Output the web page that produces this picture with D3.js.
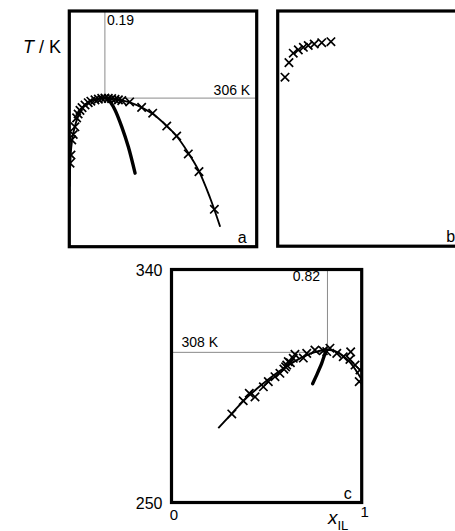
<!DOCTYPE html>
<html>
<head>
<meta charset="utf-8">
<script src="https://cdn.jsdelivr.net/npm/d3@7"></script>
<style>
  html, body { margin: 0; padding: 0; background: #fff; }
  svg { display: block; font-family: "Liberation Sans", Arial, sans-serif; }
</style>
</head>
<body>
<svg id="chart" width="455" height="531"></svg>
<script>
// ---------- DATA ----------
// Panel a
const aCrossX = [0.004, 0.009, 0.013, 0.021, 0.030, 0.039, 0.047, 0.057, 0.068, 0.084, 0.101, 0.115, 0.137, 0.155, 0.173, 0.19, 0.208, 0.226, 0.244, 0.262, 0.280, 0.322, 0.386, 0.445, 0.520, 0.573, 0.635, 0.692, 0.774];
const aCrossT = [280.6, 283.8, 289.7, 291.8, 294.8, 298.3, 299.8, 301.2, 302.3, 303.3, 304.2, 304.8, 305.3, 305.6, 305.9, 306.0, 305.9, 305.8, 305.5, 305.3, 305.0, 304.5, 302.4, 300.1, 295.1, 291.2, 284.2, 277.3, 262.6];
const aCurveX = [0.002, 0.005, 0.01, 0.018, 0.03, 0.045, 0.065, 0.09, 0.12, 0.155, 0.19, 0.23, 0.28, 0.33, 0.39, 0.45, 0.51, 0.57, 0.63, 0.69, 0.75, 0.805];
const aCurveT = [271.5, 280, 286.5, 291, 295, 298.5, 301.5, 303.7, 305.1, 305.8, 306, 305.8, 305.1, 304.1, 302.2, 299.6, 295.8, 291.4, 285.2, 277.8, 267.3, 255.8];
const aSpinX = [0.200, 0.220, 0.244, 0.280, 0.315, 0.351];
const aSpinT = [306.0, 304.4, 301.4, 294.8, 287.0, 276.7];
const aRefX = 0.19, aRefT = 306;

// Panel b
const bCrossX = [0.039, 0.060, 0.083, 0.110, 0.137, 0.163, 0.195, 0.235, 0.284];
const bCrossT = [314.1, 319.8, 323.5, 324.8, 325.8, 326.5, 327.1, 327.6, 328.0];

// Panel c
const cCrossX = [0.317, 0.377, 0.409, 0.439, 0.483, 0.509, 0.544, 0.570, 0.591, 0.600, 0.606, 0.614, 0.625, 0.640, 0.649, 0.693, 0.711, 0.754, 0.798, 0.816, 0.833, 0.869, 0.903, 0.942, 0.938, 0.965, 0.991, 0.987];
const cCrossT = [284.2, 289.3, 292.2, 290.8, 294.7, 296.7, 298.6, 299.9, 301.5, 302.4, 303.1, 304.4, 304.0, 305.7, 307.2, 305.8, 307.6, 308.9, 308.6, 308.3, 309.6, 307.6, 306.3, 308.2, 305.3, 303.1, 301.2, 296.7];
const cCurveX = [0.246, 0.30, 0.35, 0.40, 0.45, 0.50, 0.55, 0.60, 0.65, 0.70, 0.75, 0.80, 0.82, 0.86, 0.90, 0.94, 0.97, 1.0];
const cCurveT = [278.7, 283, 287, 290.8, 294, 297, 299.8, 302.3, 304.6, 306.5, 308, 308.9, 309, 308.5, 306.8, 304, 301, 297.5];
const cSpinX = [0.814, 0.800, 0.790, 0.763, 0.742];
const cSpinT = [309.0, 306.0, 303.8, 299.2, 295.9];
const cRefX = 0.82, cRefT = 308;

const xTicks = [0, 1];
const tTicks = [250, 340];

// ---------- LAYOUT ----------
const svg = d3.select("#chart");
svg.append("rect").attr("width", 455).attr("height", 531).attr("fill", "#fff");

const panels = [
  {id: "a", left: 69.3, top: 11, w: 187.4, h: 235.7, tDom: [248, 340],
   cross: [aCrossX, aCrossT], curve: [aCurveX, aCurveT], spin: [aSpinX, aSpinT], ref: [aRefX, aRefT], refSide: "right"},
  {id: "b", left: 277.7, top: 11, w: 187.4, h: 235.2, tDom: [248, 340],
   cross: [bCrossX, bCrossT]},
  {id: "c", left: 171.5, top: 269.5, w: 190.2, h: 233, tDom: [250, 340],
   cross: [cCrossX, cCrossT], curve: [cCurveX, cCurveT], spin: [cSpinX, cSpinT], ref: [cRefX, cRefT], refSide: "left", axes: true}
];

const crossPath = "M-4.2,-4.2L4.2,4.2M-4.2,4.2L4.2,-4.2";

panels.forEach(p => {
  const x = d3.scaleLinear().domain([0, 1]).range([p.left, p.left + p.w]);
  const y = d3.scaleLinear().domain(p.tDom).range([p.top + p.h, p.top]);
  const g = svg.append("g");
  const clipId = "clip-" + p.id;
  svg.append("clipPath").attr("id", clipId).append("rect")
    .attr("x", p.left).attr("y", p.top).attr("width", p.w).attr("height", p.h);
  const plot = g.append("g").attr("clip-path", `url(#${clipId})`);

  // reference lines
  if (p.ref) {
    const [rx, rt] = p.ref;
    plot.append("line").attr("x1", x(rx)).attr("x2", x(rx)).attr("y1", y(p.tDom[1])).attr("y2", y(rt))
      .attr("stroke", "#8a8a8a").attr("stroke-width", 1);
    const hx1 = p.refSide === "right" ? x(rx) : x(0);
    const hx2 = p.refSide === "right" ? x(1) : x(rx);
    plot.append("line").attr("x1", hx1).attr("x2", hx2).attr("y1", y(rt)).attr("y2", y(rt))
      .attr("stroke", "#8a8a8a").attr("stroke-width", 1);
  }

  const line = d3.line().x(d => x(d[0])).y(d => y(d[1])).curve(d3.curveCatmullRom.alpha(0.5));
  if (p.curve) {
    const pts = p.curve[0].map((v, i) => [v, p.curve[1][i]]);
    plot.append("path").attr("d", line(pts)).attr("fill", "none").attr("stroke", "#000").attr("stroke-width", 1.9);
  }
  if (p.spin) {
    const pts = p.spin[0].map((v, i) => [v, p.spin[1][i]]);
    plot.append("path").attr("d", line(pts)).attr("fill", "none").attr("stroke", "#000")
      .attr("stroke-width", 3.4).attr("stroke-linecap", "round");
  }
  const cpts = p.cross[0].map((v, i) => [v, p.cross[1][i]]);
  plot.selectAll("path.cross").data(cpts).enter().append("path").attr("class", "cross")
    .attr("d", crossPath).attr("transform", d => `translate(${x(d[0])},${y(d[1])})`)
    .attr("fill", "none").attr("stroke", "#000").attr("stroke-width", 1.7);

  // frame
  g.append("rect").attr("x", p.left).attr("y", p.top).attr("width", p.w).attr("height", p.h)
    .attr("fill", "none").attr("stroke", "#000").attr("stroke-width", 3.2);

  // panel letter
  g.append("text").attr("x", p.left + p.w - 10).attr("y", p.top + p.h - 4)
    .attr("text-anchor", "end").attr("font-size", 16).text(p.id);

  // ref labels
  if (p.ref) {
    const [rx, rt] = p.ref;
    if (p.refSide === "right") {
      g.append("text").attr("x", x(rx) + 2).attr("y", p.top + 14).attr("font-size", 14).text(d3.format(".2f")(rx));
      g.append("text").attr("x", x(1) - 6.5).attr("y", y(rt) - 3).attr("text-anchor", "end").attr("font-size", 14).text(rt + " K");
    } else {
      g.append("text").attr("x", x(rx) - 7.5).attr("y", p.top + 11.5).attr("text-anchor", "end").attr("font-size", 14).text(d3.format(".2f")(rx));
      g.append("text").attr("x", x(0) + 10).attr("y", y(rt) - 5).attr("font-size", 14).text(rt + " K");
    }
  }

  if (p.axes) {
    tTicks.forEach(t => {
      g.append("text").attr("x", p.left - 9).attr("y", y(t) + 6).attr("text-anchor", "end")
        .attr("font-size", 16).text(t);
    });
    xTicks.forEach((v, i) => {
      g.append("text").attr("x", x(v) + (i === 0 ? 2.5 : 3)).attr("y", p.top + p.h + (i === 0 ? 17.5 : 14.5))
        .attr("text-anchor", "middle").attr("font-size", 15).text(v);
    });
    const xl = g.append("text").attr("x", 328).attr("y", 524).attr("font-size", 19);
    xl.append("tspan").attr("font-style", "italic").text("x");
    xl.append("tspan").attr("font-size", 13).attr("dy", 5.5).text("IL");
  }
});

// y axis title
const yt = svg.append("text").attr("x", 23).attr("y", 53).attr("font-size", 18);
yt.append("tspan").attr("font-style", "italic").text("T");
yt.append("tspan").text(" / K");
</script>
</body>
</html>
